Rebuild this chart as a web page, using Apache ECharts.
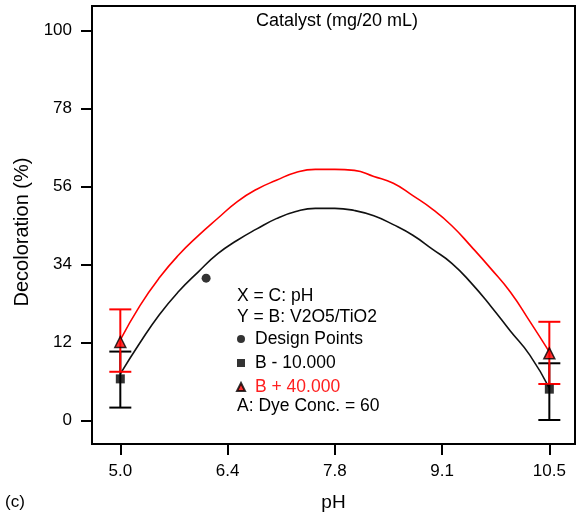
<!DOCTYPE html>
<html>
<head>
<meta charset="utf-8">
<script src="https://cdn.jsdelivr.net/npm/echarts@6/dist/echarts.min.js"></script>
<style>
  html, body { margin: 0; padding: 0; background: #fff; }
  #chart { width: 580px; height: 519px; }
</style>
</head>
<body>
<div id="chart"></div>
<script>
// pH grid for the two predicted response curves
const pH = [5.0, 5.25, 5.5, 5.75, 6.0, 6.25, 6.5, 6.75, 7.0, 7.25, 7.5, 7.75,
            8.0, 8.25, 8.5, 8.75, 9.0, 9.25, 9.5, 9.75, 10.0, 10.25, 10.5];
// Catalyst at B - 10.000 (black) and B + 40.000 (red)
const curveLow  = [3.2, 11.9, 19.9, 26.5, 32.0, 37.1, 40.9, 44.1, 47.0, 49.0, 49.9, 49.9,
                   49.3, 47.8, 45.3, 42.3, 38.4, 34.4, 28.8, 22.3, 15.3, 8.5, -0.8];
const curveHigh = [12.8, 22.4, 30.3, 36.8, 42.2, 47.1, 51.8, 55.3, 57.8, 60.0, 60.9, 60.9,
                   60.6, 58.9, 57.0, 53.5, 49.7, 45.0, 39.1, 32.9, 26.3, 18.0, 9.4];

// Design points
const designPH = [6.1];
const designVal = [30.2];
const endPH = [5.0, 10.5];
const lowPoints = [1.8, -1.1];
const highPoints = [12.2, 9.0];

// LSD bars at the pH ends
const lowBarMin = [-6.3, -9.8];
const lowBarMax = [9.5, 6.2];
const highBarMin = [3.8, 0.35];
const highBarMax = [21.4, 17.9];

// Axis ticks
const xTicks = [5.0, 6.375, 7.75, 9.125, 10.5];
const xTickLabels = ['5.0', '6.4', '7.8', '9.1', '10.5'];
const yTicks = [-10, 12, 34, 56, 78, 100];
const yTickLabels = ['0', '12', '34', '56', '78', '100'];

const FONT = '"Liberation Sans", Arial, Helvetica, sans-serif';

function pairs(xs, ys) { return xs.map((x, i) => [x, ys[i]]); }
function bars(xs, lo, hi) { return xs.map((x, i) => [x, lo[i], hi[i]]); }

function errorBar(color) {
  return function (params, api) {
    const x = api.value(0);
    const p1 = api.coord([x, api.value(1)]);
    const p2 = api.coord([x, api.value(2)]);
    const half = 11;
    const style = { stroke: color, lineWidth: 2 };
    return {
      type: 'group',
      children: [
        { type: 'line', shape: { x1: p1[0], y1: p1[1], x2: p2[0], y2: p2[1] }, style },
        { type: 'line', shape: { x1: p1[0] - half, y1: p1[1], x2: p1[0] + half, y2: p1[1] }, style },
        { type: 'line', shape: { x1: p2[0] - half, y1: p2[1], x2: p2[0] + half, y2: p2[1] }, style }
      ]
    };
  };
}

const chart = echarts.init(document.getElementById('chart'), null, { renderer: 'canvas' });

chart.setOption({
  animation: false,
  backgroundColor: '#fff',
  textStyle: { fontFamily: FONT, color: '#000' },
  title: {
    text: 'Catalyst (mg/20 mL)',
    left: 256, top: 12, padding: 0,
    textStyle: { fontFamily: FONT, fontSize: 18, fontWeight: 'normal', color: '#000' }
  },
  grid: {
    left: 92, right: 5, top: 6, bottom: 75,
    show: true, borderColor: '#000', borderWidth: 2
  },
  xAxis: {
    type: 'value', min: 4.637, max: 10.829,
    name: 'pH', nameLocation: 'middle', nameGap: 49,
    nameTextStyle: { fontFamily: FONT, fontSize: 19, color: '#000' },
    axisLine: { show: true, onZero: false, lineStyle: { color: '#000', width: 2 } },
    axisTick: { show: true, customValues: xTicks, length: 11, lineStyle: { color: '#000', width: 2 } },
    axisLabel: {
      customValues: xTicks, margin: 19, fontSize: 17, color: '#000', fontFamily: FONT,
      formatter: v => xTickLabels[xTicks.findIndex(t => Math.abs(t - v) < 1e-6)]
    },
    splitLine: { show: false }
  },
  yAxis: {
    type: 'value', min: -16.57, max: 106.97,
    name: 'Decoloration (%)', nameLocation: 'middle', nameGap: 58,
    nameTextStyle: { fontFamily: FONT, fontSize: 20, color: '#000', padding: [0, 14, 0, 0] },
    axisLine: { show: true, onZero: false, lineStyle: { color: '#000', width: 2 } },
    axisTick: { show: true, customValues: yTicks, length: 11, lineStyle: { color: '#000', width: 2 } },
    axisLabel: {
      customValues: yTicks, margin: 20, fontSize: 17, color: '#000', fontFamily: FONT,
      formatter: v => yTickLabels[yTicks.findIndex(t => Math.abs(t - v) < 1e-6)]
    },
    splitLine: { show: false }
  },
  legend: {
    orient: 'vertical', left: 236, top: 330, padding: 0,
    itemWidth: 8, itemHeight: 8, itemGap: 6,
    textStyle: { fontFamily: FONT, fontSize: 17.5, color: '#000', padding: [0, 0, 0, 5] },
    data: [
      { name: 'Design Points' },
      { name: 'B - 10.000' },
      { name: 'B + 40.000', textStyle: { color: '#ff2020' } }
    ]
  },
  graphic: [
    { type: 'text', left: 237, top: 287, style: { text: 'X = C: pH', font: '17.5px ' + FONT, fill: '#000' } },
    { type: 'text', left: 237, top: 308, style: { text: 'Y = B: V2O5/TiO2', font: '17.5px ' + FONT, fill: '#000' } },
    { type: 'text', left: 237, top: 397, style: { text: 'A: Dye Conc. = 60', font: '17.5px ' + FONT, fill: '#000' } },
    { type: 'text', left: 5, top: 494, style: { text: '(c)', font: '17px ' + FONT, fill: '#000' } }
  ],
  series: [
    {
      type: 'line', name: 'curveLow', data: pairs(pH, curveLow),
      showSymbol: false, smooth: true, silent: true,
      lineStyle: { color: '#111', width: 1.6 }, z: 2
    },
    {
      type: 'line', name: 'curveHigh', data: pairs(pH, curveHigh),
      showSymbol: false, smooth: true, silent: true,
      lineStyle: { color: '#ff0000', width: 1.6 }, z: 2
    },
    {
      type: 'custom', name: 'lowBars', renderItem: errorBar('#000'),
      data: bars(endPH, lowBarMin, lowBarMax), z: 3
    },
    {
      type: 'custom', name: 'highBars', renderItem: errorBar('#ff0000'),
      data: bars(endPH, highBarMin, highBarMax), z: 4
    },
    {
      type: 'scatter', name: 'Design Points', data: pairs(designPH, designVal),
      symbol: 'circle', symbolSize: 9, itemStyle: { color: '#000' }, z: 5
    },
    {
      type: 'scatter', name: 'B - 10.000', data: pairs(endPH, lowPoints),
      symbol: 'rect', symbolSize: 9, itemStyle: { color: '#000' }, z: 5
    },
    {
      type: 'scatter', name: 'B + 40.000', data: pairs(endPH, highPoints),
      symbol: 'triangle', symbolSize: 11,
      itemStyle: { color: '#ff0000', borderColor: '#000', borderWidth: 1.5 }, z: 6
    }
  ]
});
</script>
</body>
</html>
